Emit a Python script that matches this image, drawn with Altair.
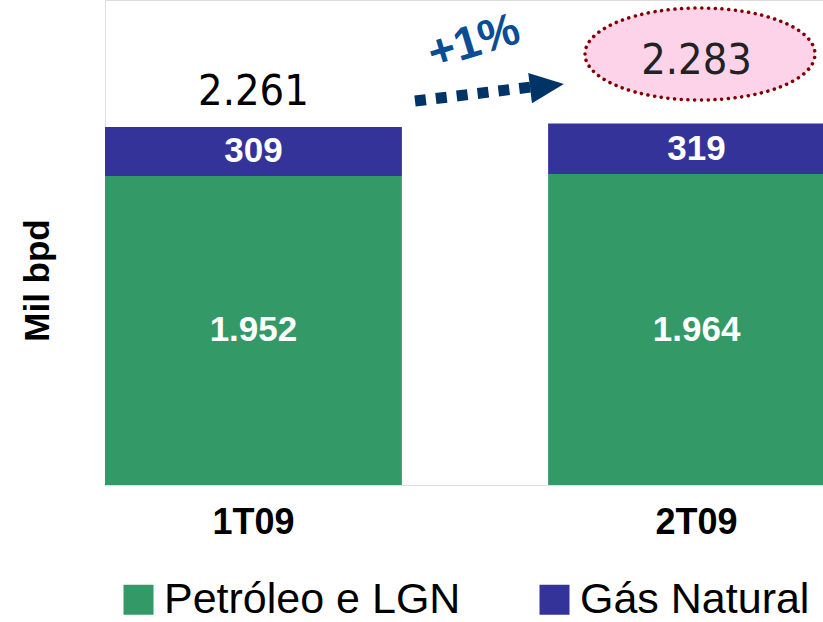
import altair as alt
import pandas as pd

# Production by quarter (thousand barrels per day)
quarters = ["1T09", "2T09"]
oil_ngl = [1952, 1964]
natural_gas = [309, 319]
totals = [2261, 2283]
series = ["Petróleo e LGN", "Gás Natural"]
series_colors = ["#339966", "#333399"]
growth_text = "+1%"
y_title = "Mil bpd"

SANS = "Liberation Sans, Arial, sans-serif"
NARROW = "DejaVu Sans Condensed, Liberation Sans Narrow, sans-serif"


def br(v):
    """Brazilian thousands separator."""
    return f"{v:,}".replace(",", ".")


rows = []
for q, oil, gas in zip(quarters, oil_ngl, natural_gas):
    rows.append({"trimestre": q, "serie": series[0], "valor": oil, "ordem": 0,
                 "meio": oil / 2, "rotulo": br(oil)})
    rows.append({"trimestre": q, "serie": series[1], "valor": gas, "ordem": 1,
                 "meio": oil + gas / 2, "rotulo": br(gas)})
segments = pd.DataFrame(rows)
tot = pd.DataFrame({"trimestre": quarters, "total": totals,
                    "rotulo": [br(t) for t in totals]})
anchor = pd.DataFrame({"k": [0]})

x_enc = alt.X("trimestre:N", sort=quarters, title=None,
              scale=alt.Scale(range=[0, 740], paddingInner=0.33, paddingOuter=0),
              axis=alt.Axis(labelAngle=0, labelFont=SANS, labelFontSize=36,
                            labelFontWeight="bold", labelColor="black",
                            labelPadding=20, domain=False, ticks=False, grid=False))
y_scale = alt.Scale(domain=[0, 3063], nice=False, zero=True)

bars = alt.Chart(segments).mark_bar().encode(
    x=x_enc,
    y=alt.Y("valor:Q", stack="zero", scale=y_scale, title=y_title,
            axis=alt.Axis(labels=False, ticks=False, domain=False, grid=False,
                          titleFont=SANS, titleFontSize=35, titleFontWeight="bold",
                          titleColor="black", titleAngle=270, titleX=-68, titleY=280,
                          titleAlign="center", titleBaseline="middle")),
    color=alt.Color("serie:N", scale=alt.Scale(domain=series, range=series_colors),
                    legend=alt.Legend(title=None, orient="none", direction="horizontal",
                                      legendX=12, legendY=578, symbolType="square",
                                      symbolSize=900, symbolStrokeWidth=0,
                                      labelFont=SANS, labelFontSize=43, labelLimit=600,
                                      labelColor="black", labelOffset=4,
                                      columnPadding=72, padding=0)),
    order=alt.Order("ordem:Q"),
)

seg_labels = alt.Chart(segments).mark_text(
    font=SANS, fontSize=35, fontWeight="bold", color="white", baseline="middle"
).encode(
    x=alt.X("trimestre:N", sort=quarters),
    y=alt.Y("meio:Q", scale=y_scale),
    text="rotulo:N",
)

total_first = alt.Chart(tot).transform_filter(
    alt.datum.trimestre == quarters[0]
).mark_text(font=NARROW, fontSize=43, color="black", baseline="alphabetic", dy=-22).encode(
    x=alt.X("trimestre:N", sort=quarters),
    y=alt.Y("total:Q", scale=y_scale),
    text="rotulo:N",
)

# highlighted ellipse behind the latest total
ellipse = alt.Chart(anchor).mark_point(
    shape="M -1 0 A 1 0.4 0 1 1 1 0 A 1 0.4 0 1 1 -1 0 Z",
    filled=True, fill="#fcd3e8", fillOpacity=1, stroke="#800000", strokeWidth=3.5,
    strokeDash=[0.1, 6.6], strokeCap="round", size=52900,
).encode(x=alt.value(595), y=alt.value(54))

total_last = alt.Chart(tot).transform_filter(
    alt.datum.trimestre == quarters[1]
).mark_text(font=NARROW, fontSize=43, color="#222222", baseline="alphabetic", dy=-50).encode(
    x=alt.X("trimestre:N", sort=quarters),
    y=alt.Y("total:Q", scale=y_scale),
    text="rotulo:N",
)

# dotted growth arrow
arrow_line = alt.Chart(anchor).mark_rule(
    color="#003366", strokeWidth=11, strokeDash=[11, 10], strokeCap="butt"
).encode(x=alt.value(310), x2=alt.value(426), y=alt.value(101), y2=alt.value(87))

arrow_head = alt.Chart(anchor).mark_point(
    shape="M -1 -0.9 L 1 0 L -1 0.9 Z", filled=True, color="#003366",
    fillOpacity=1, size=1156, angle=353,
).encode(x=alt.value(442), y=alt.value(86))

growth = alt.Chart(anchor).mark_text(
    font=SANS, fontSize=46, fontWeight="bold", color="#0b4d94",
    angle=343, align="center", baseline="middle",
).encode(x=alt.value(369), y=alt.value(42), text=alt.value(growth_text))

chart = alt.layer(
    bars, seg_labels, total_first, ellipse, total_last, arrow_line, arrow_head, growth
).properties(
    width=718, height=485,
    autosize=alt.AutoSizeParams(type="none"),
    padding={"left": 105, "top": 0, "right": 0, "bottom": 137},
).configure_view(stroke=None).configure(background="white")

chart.save("out.html", embed_options={"renderer": "svg", "actions": False})
